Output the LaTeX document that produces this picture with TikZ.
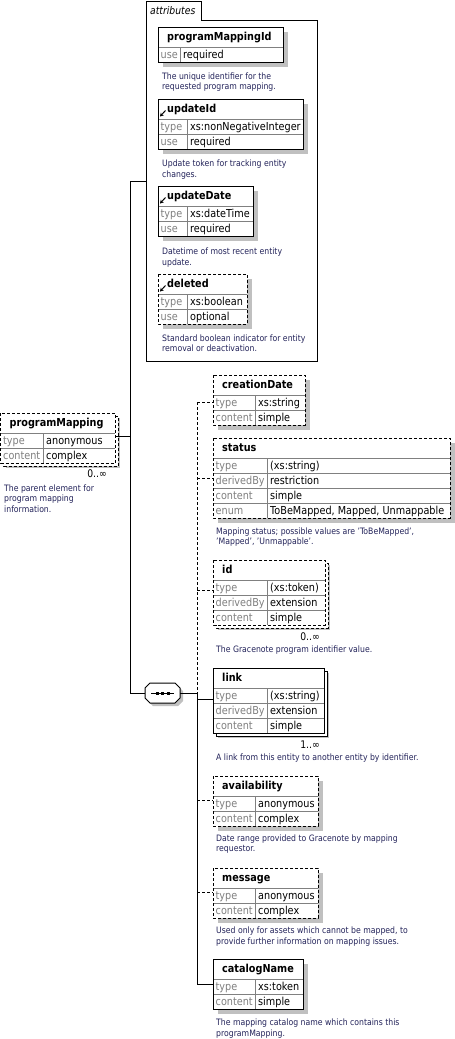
\documentclass[tikz,border=0pt]{standalone}
\usepackage{fontspec}
\setmainfont{DejaVu Sans}[FakeStretch=0.88]
\usetikzlibrary{arrows.meta}
\definecolor{shadowgray}{RGB}{192,192,192}
\definecolor{labelgray}{RGB}{128,128,128}
\definecolor{linegray}{RGB}{128,128,128}
\definecolor{desccol}{RGB}{35,35,90}
\tikzset{
  solidbox/.style={draw=black, line width=1pt},
  dashbox/.style={draw=black, line width=1pt, dash pattern=on 3pt off 2pt},
  rowline/.style={draw=linegray, line width=0.8pt},
  headtext/.style={font=\fontsize{11}{13}\selectfont\bfseries, inner sep=0pt, anchor=base west},
  labtext/.style={font=\fontsize{11}{13}\selectfont, text=labelgray, inner sep=0pt, anchor=base west},
  valtext/.style={font=\fontsize{11}{13}\selectfont, inner sep=0pt, anchor=base west},
  desctext/.style={font=\fontsize{8.8}{10.5}\selectfont, text=desccol, inner sep=0pt, anchor=north west, align=left},
  occtext/.style={font=\fontsize{10.5}{12}\selectfont, inner sep=0pt, anchor=base east},
  conn/.style={draw=black, line width=1pt},
  dashconn/.style={conn, dash pattern=on 3pt off 2pt},
  attricon/.style={line width=1pt, -{Stealth[length=3.6pt,width=4pt]}},
}
\newif\ifstacked
% #1 name, #2 x1, #3 y1, #4 x2, #5 split, #6 rows, #7 border style, #8 header, #9 rows list
\newcommand\elem[9]{%
  \pgfmathsetmacro\ybot{#3+20+15*#6}%
  \fill[shadowgray] ({#2+5},{#3+5}) rectangle ({#4+5},{\ybot+5});
  \ifstacked\path[#7,fill=white] ({#2+3},{#3+3}) rectangle ({#4+3},{\ybot+3});\fi
  \node[fill=white, inner sep=0pt, outer sep=0pt, anchor=north west,
        minimum width={(#4-#2)*1pt}, minimum height={(\ybot-#3)*1pt}] (#1) at (#2,#3) {};
  \node[headtext] at ({#2+9},{#3+13.5}) {#8};
  \draw[rowline] ({#2},{#3+20}) -- ({#4},{#3+20});
  \draw[rowline] ({#5},{#3+20}) -- ({#5},\ybot);
  \foreach \lab/\val [count=\i] in {#9} {
    \pgfmathsetmacro\ry{#3+20+15*(\i-1)}
    \ifnum\i>1 \draw[rowline] ({#2},\ry) -- ({#4},\ry);\fi
    \node[labtext] at ({#2+2.5},{\ry+11}) {\lab};
    \node[valtext] at ({#5+3},{\ry+11}) {\val};
  }
  \path[#7] (#1.north west) rectangle (#1.south east);
}
\newcommand\desc[3]{\node[desctext] at (#1,{#2-8.5}) {\rule{0pt}{8.5pt}#3};}
\newcommand\icon[2]{\draw[attricon] ({#1+7.5},{#2-8.5}) -- ({#1+2},{#2-2.5});}
\begin{document}
\begin{tikzpicture}[x=1pt,y=-1pt]
\useasboundingbox[fill=white] (0,0) rectangle (455,1039);

% attributes group
\node[inner sep=0pt, outer sep=0pt, anchor=north west, minimum width=171pt, minimum height=341pt] (attr) at (146,20) {};
\draw[conn] (attr.south west) -- (146,1) -- (201,1) -- (201,20) -- (attr.north east) -- (attr.south east) -- cycle;
\node[font=\fontsize{10.5}{12}\selectfont\itshape, anchor=base west, inner sep=0pt] (attrlabel) at (150,14) {attributes};

\stackedfalse
\elem{pmid}{158}{27}{283}{180}{1}{solidbox}{programMappingId}{use/required}
\desc{162}{79}{The unique identifier for the\\requested program mapping.}

\elem{updateId}{158}{99}{303}{187}{2}{solidbox}{updateId}{type/xs:nonNegativeInteger, use/required}
\icon{158}{119}
\desc{162}{166.5}{Update token for tracking entity\\changes.}

\elem{updateDate}{158}{186}{253}{187}{2}{solidbox}{updateDate}{type/xs:dateTime, use/required}
\icon{158}{206}
\desc{162}{254.5}{Datetime of most recent entity\\update.}

\elem{deleted}{158}{274}{247}{187}{2}{dashbox}{deleted}{type/xs:boolean, use/optional}
\icon{158}{294}
\desc{162}{341}{Standard boolean indicator for entity\\removal or deactivation.}

% root element
\stackedtrue
\elem{pm}{0.5}{413}{115}{43}{2}{dashbox}{programMapping}{type/anonymous, content/complex}
\stackedfalse
\node[occtext] (pmocc) at (107,477.5) {0..∞};
\desc{4}{491}{The parent element for\\program mapping\\information.}

% sequence compositor
\fill[shadowgray] (148,691) -- (153,686) -- (178,686) -- (183,691) -- (183,701) -- (178,706) -- (153,706) -- (148,701) -- cycle;
\draw[conn, fill=white] (145,688) -- (150,683) -- (175,683) -- (180,688) -- (180,698) -- (175,703) -- (150,703) -- (145,698) -- cycle;
\node[inner sep=0pt, outer sep=0pt, minimum width=35pt, minimum height=20pt] (seq) at (162.5,693) {};
\draw[line width=1pt] (151,693) -- (174,693);
\fill (155.5,691.5) rectangle (158.5,694.5);
\fill (161,691.5) rectangle (164,694.5);
\fill (166.5,691.5) rectangle (169.5,694.5);

% children
\elem{creationDate}{213}{375}{305}{255}{2}{dashbox}{creationDate}{type/xs:string, content/simple}

\elem{status}{213}{438}{450}{267}{4}{dashbox}{status}{type/(xs:string), derivedBy/restriction, content/simple, enum/{ToBeMapped, Mapped, Unmappable}}
\desc{216}{534}{Mapping status; possible values are 'ToBeMapped',\\'Mapped', 'Unmappable'.}

\stackedtrue
\elem{id}{213}{560}{325}{267}{3}{dashbox}{id}{type/(xs:token), derivedBy/extension, content/simple}
\stackedfalse
\node[occtext] (idocc) at (320,640) {0..∞};
\desc{216}{652.5}{The Gracenote program identifier value.}

\stackedtrue
\elem{link}{213}{668}{324}{267}{3}{solidbox}{link}{type/(xs:string), derivedBy/extension, content/simple}
\stackedfalse
\node[occtext] (linkocc) at (320,748.5) {1..∞};
\desc{216}{760.5}{A link from this entity to another entity by identifier.}

\elem{availability}{213}{776}{318}{255}{2}{dashbox}{availability}{type/anonymous, content/complex}
\desc{216}{841}{Date range provided to Gracenote by mapping\\requestor.}

\elem{message}{213}{868}{318}{255}{2}{dashbox}{message}{type/anonymous, content/complex}
\desc{216}{933.5}{Used only for assets which cannot be mapped, to\\provide further information on mapping issues.}

\elem{catalogName}{213}{959}{303}{255}{2}{solidbox}{catalogName}{type/xs:token, content/simple}
\desc{216}{1025.5}{The mapping catalog name which contains this\\programMapping.}

% connectors
\coordinate (jtop) at (130,181);
\coordinate (jpm) at (130,436);
\coordinate (jbot) at (130,693);
\draw[conn] (pm.east |- jpm) -- (jpm);
\draw[conn] (jtop) -- (jbot);
\draw[conn] (jtop) -- (attr.west |- jtop);
\draw[conn] (jbot) -- (seq.west);
\coordinate (sq) at (197,693);
\draw[conn] (seq.east) -- (sq);
\coordinate (b1) at (197,402);
\coordinate (b2) at (197,478);
\coordinate (b3) at (197,590);
\coordinate (b4) at (197,699);
\coordinate (b5) at (197,800);
\coordinate (b6) at (197,892);
\coordinate (b7) at (197,984);
\draw[dashconn] (b1) -- (sq);
\draw[conn] (sq) -- (b7);
\draw[dashconn] (b1) -- (creationDate.west |- b1);
\draw[dashconn] (b2) -- (status.west |- b2);
\draw[dashconn] (b3) -- (id.west |- b3);
\draw[conn] (b4) -- (link.west |- b4);
\draw[dashconn] (b5) -- (availability.west |- b5);
\draw[dashconn] (b6) -- (message.west |- b6);
\draw[conn] (b7) -- (catalogName.west |- b7);
\end{tikzpicture}
\end{document}
